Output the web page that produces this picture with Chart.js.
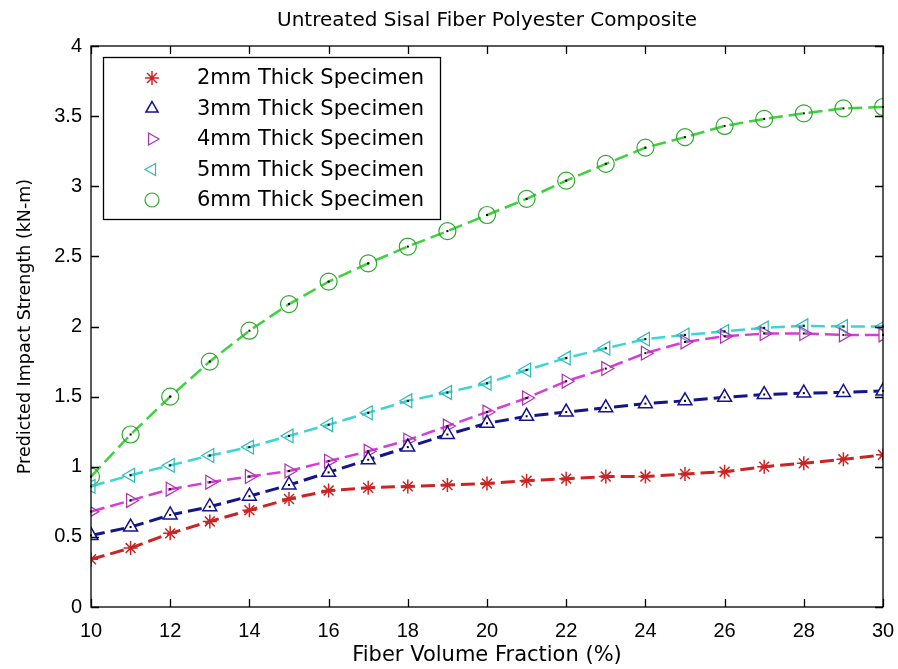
<!DOCTYPE html>
<html>
<head>
<meta charset="UTF-8">
<title>Untreated Sisal Fiber Polyester Composite</title>
<script src="https://cdn.jsdelivr.net/npm/chart.js"></script>
<style>
  html, body { margin: 0; padding: 0; background: #fff; }
  canvas { display: block; }
</style>
</head>
<body>
<canvas id="impactChart" width="898" height="669"></canvas>
<script>
// fiber volume fraction (%) on the x axis
const fiberFraction = [10, 11, 12, 13, 14, 15, 16, 17, 18, 19, 20, 21, 22, 23, 24, 25, 26, 27, 28, 29, 30];

// predicted impact strength (kN-m)
const strength2mm = [0.34, 0.42, 0.525, 0.61, 0.69, 0.77, 0.83, 0.85, 0.86, 0.87, 0.88, 0.90, 0.915, 0.93, 0.93, 0.948, 0.965, 1.0, 1.025, 1.053, 1.085];
const strength3mm = [0.51, 0.57, 0.656, 0.715, 0.79, 0.87, 0.96, 1.05, 1.14, 1.23, 1.31, 1.36, 1.39, 1.42, 1.45, 1.47, 1.495, 1.515, 1.525, 1.53, 1.54];
const strength4mm = [0.68, 0.76, 0.84, 0.89, 0.93, 0.97, 1.04, 1.11, 1.19, 1.29, 1.39, 1.49, 1.61, 1.70, 1.81, 1.89, 1.93, 1.95, 1.95, 1.94, 1.94];
const strength5mm = [0.86, 0.94, 1.01, 1.08, 1.14, 1.22, 1.30, 1.385, 1.47, 1.53, 1.595, 1.69, 1.775, 1.845, 1.91, 1.94, 1.965, 1.99, 2.005, 2.0, 2.0];
const strength6mm = [0.93, 1.23, 1.50, 1.75, 1.97, 2.16, 2.32, 2.45, 2.57, 2.68, 2.795, 2.91, 3.04, 3.16, 3.275, 3.35, 3.43, 3.48, 3.52, 3.555, 3.565];

const seriesLabels = ['2mm Thick Specimen', '3mm Thick Specimen', '4mm Thick Specimen', '5mm Thick Specimen', '6mm Thick Specimen'];

// tick labels
const xTicks = [10, 12, 14, 16, 18, 20, 22, 24, 26, 28, 30];
const yTicks = [0, 0.5, 1, 1.5, 2, 2.5, 3, 3.5, 4];

function toPoints(values) {
    return values.map((v, i) => ({ x: fiberFraction[i], y: v }));
}

const dash = [14, 6];

const datasets = [
    { label: seriesLabels[0], data: toPoints(strength2mm), borderColor: '#cc2424', pointBorderColor: '#cc2424',
      pointBackgroundColor: '#cc2424', pointStyle: 'star', pointRadius: 7, pointBorderWidth: 1.5, borderWidth: 3, borderDash: dash },
    { label: seriesLabels[1], data: toPoints(strength3mm), borderColor: '#14148c', pointBorderColor: '#14148c',
      pointBackgroundColor: '#ffffff', pointStyle: 'triangle', pointRadius: 8, pointBorderWidth: 1.5, borderWidth: 3, borderDash: dash },
    { label: seriesLabels[2], data: toPoints(strength4mm), borderColor: '#d83cd8', pointBorderColor: '#b030b0',
      pointBackgroundColor: 'rgba(255,255,255,0)', pointStyle: 'triangle', pointRotation: 90, pointRadius: 8, pointBorderWidth: 1.2, borderWidth: 2.5, borderDash: dash },
    { label: seriesLabels[3], data: toPoints(strength5mm), borderColor: '#3cd4d4', pointBorderColor: '#30b8b8',
      pointBackgroundColor: 'rgba(255,255,255,0)', pointStyle: 'triangle', pointRotation: -90, pointRadius: 8, pointBorderWidth: 1.2, borderWidth: 2.5, borderDash: dash },
    { label: seriesLabels[4], data: toPoints(strength6mm), borderColor: '#3cd23c', pointBorderColor: '#2ca82c',
      pointBackgroundColor: 'rgba(255,255,255,0)', pointStyle: 'circle', pointRadius: 8.5, pointBorderWidth: 1.2, borderWidth: 2.5, borderDash: dash }
];

// matlab style box with ticks pointing inwards
const boxPlugin = {
    id: 'box',
    afterDatasetsDraw(chart) {
        const ctx = chart.ctx;
        const a = chart.chartArea;
        const xs = chart.scales.x, ys = chart.scales.y;
        const tl = 8;
        ctx.save();
        ctx.strokeStyle = '#000';
        ctx.lineWidth = 1.3;
        ctx.strokeRect(a.left, a.top, a.right - a.left, a.bottom - a.top);
        ctx.beginPath();
        xTicks.forEach(v => {
            const px = Math.round(xs.getPixelForValue(v)) + 0.5;
            ctx.moveTo(px, a.bottom); ctx.lineTo(px, a.bottom - tl);
            ctx.moveTo(px, a.top); ctx.lineTo(px, a.top + tl);
        });
        yTicks.forEach(v => {
            const py = Math.round(ys.getPixelForValue(v)) + 0.5;
            ctx.moveTo(a.left, py); ctx.lineTo(a.left + tl, py);
            ctx.moveTo(a.right, py); ctx.lineTo(a.right - tl, py);
        });
        ctx.stroke();
        ctx.restore();
    }
};

// small black dot in the middle of the hollow markers
const dotPlugin = {
    id: 'dots',
    afterDatasetsDraw(chart) {
        const ctx = chart.ctx;
        ctx.save();
        ctx.fillStyle = '#000';
        for (let d = 1; d < chart.data.datasets.length; d++) {
            chart.getDatasetMeta(d).data.forEach(p => {
                ctx.fillRect(p.x - 1, p.y - 1, 2, 2);
            });
        }
        ctx.restore();
    }
};

// legend drawn inside the axes, top left
const legendPlugin = {
    id: 'insideLegend',
    afterDraw(chart) {
        const ctx = chart.ctx;
        const bx = 103, by = 57, bw = 337, bh = 162;
        ctx.save();
        ctx.fillStyle = '#fff';
        ctx.fillRect(bx, by, bw, bh);
        ctx.strokeStyle = '#000';
        ctx.lineWidth = 1.3;
        ctx.strokeRect(bx + 0.5, by + 0.5, bw, bh);
        ctx.font = '21px "DejaVu Sans"';
        ctx.textBaseline = 'middle';
        ctx.fillStyle = '#000';
        chart.data.datasets.forEach((ds, i) => {
            const y = by + 21 + i * 30.5;
            ctx.strokeStyle = ds.pointBorderColor;
            ctx.fillStyle = 'rgba(255,255,255,0)';
            ctx.lineWidth = ds.pointBorderWidth;
            Chart.helpers.drawPoint(ctx, {
                pointStyle: ds.pointStyle,
                rotation: ds.pointRotation || 0,
                radius: 7,
                borderWidth: ds.pointBorderWidth
            }, 152, y);
            ctx.fillStyle = '#000';
            ctx.fillText(ds.label, 197, y + 1);
        });
        ctx.restore();
    }
};

const ctx = document.getElementById('impactChart').getContext('2d');

const impactChart = new Chart(ctx, {
    type: 'line',
    data: { datasets: datasets },
    options: {
        responsive: false,
        animation: false,
        layout: { padding: { left: 0, right: 15, top: 0, bottom: 0 } },
        elements: { line: { tension: 0 } },
        plugins: {
            legend: { display: false },
            tooltip: { enabled: false },
            title: {
                display: true,
                fullSize: false,
                text: 'Untreated Sisal Fiber Polyester Composite',
                color: '#000',
                font: { family: 'DejaVu Sans', size: 20, weight: 'normal' },
                padding: { top: 9, bottom: 13 }
            }
        },
        scales: {
            x: {
                type: 'linear',
                min: 10,
                max: 30,
                grid: { display: false, drawTicks: false },
                border: { display: false },
                afterBuildTicks: s => { s.ticks = xTicks.map(v => ({ value: v })); },
                afterFit: s => { s.height = 62; s.paddingLeft = 0; s.paddingRight = 0; },
                ticks: {
                    padding: 12,
                    color: '#000',
                    maxRotation: 0,
                    font: { family: 'Liberation Sans', size: 20 },
                    callback: v => String(v)
                },
                title: {
                    display: true,
                    text: 'Fiber Volume Fraction (%)',
                    color: '#000',
                    font: { family: 'DejaVu Sans', size: 21 },
                    padding: { top: 0, bottom: 1 }
                }
            },
            y: {
                min: 0,
                max: 4,
                grid: { display: false, drawTicks: false },
                border: { display: false },
                afterBuildTicks: s => { s.ticks = yTicks.map(v => ({ value: v })); },
                afterFit: s => { s.width = 91; s.paddingTop = 0; s.paddingBottom = 0; },
                ticks: {
                    padding: 9,
                    color: '#000',
                    font: { family: 'Liberation Sans', size: 20 },
                    callback: v => String(v)
                },
                title: {
                    display: true,
                    text: 'Predicted Impact Strength (kN-m)',
                    color: '#000',
                    font: { family: 'DejaVu Sans', size: 17.5 },
                    padding: { top: 14.5, bottom: 0 }
                }
            }
        }
    },
    plugins: [boxPlugin, dotPlugin, legendPlugin]
});
</script>
</body>
</html>
